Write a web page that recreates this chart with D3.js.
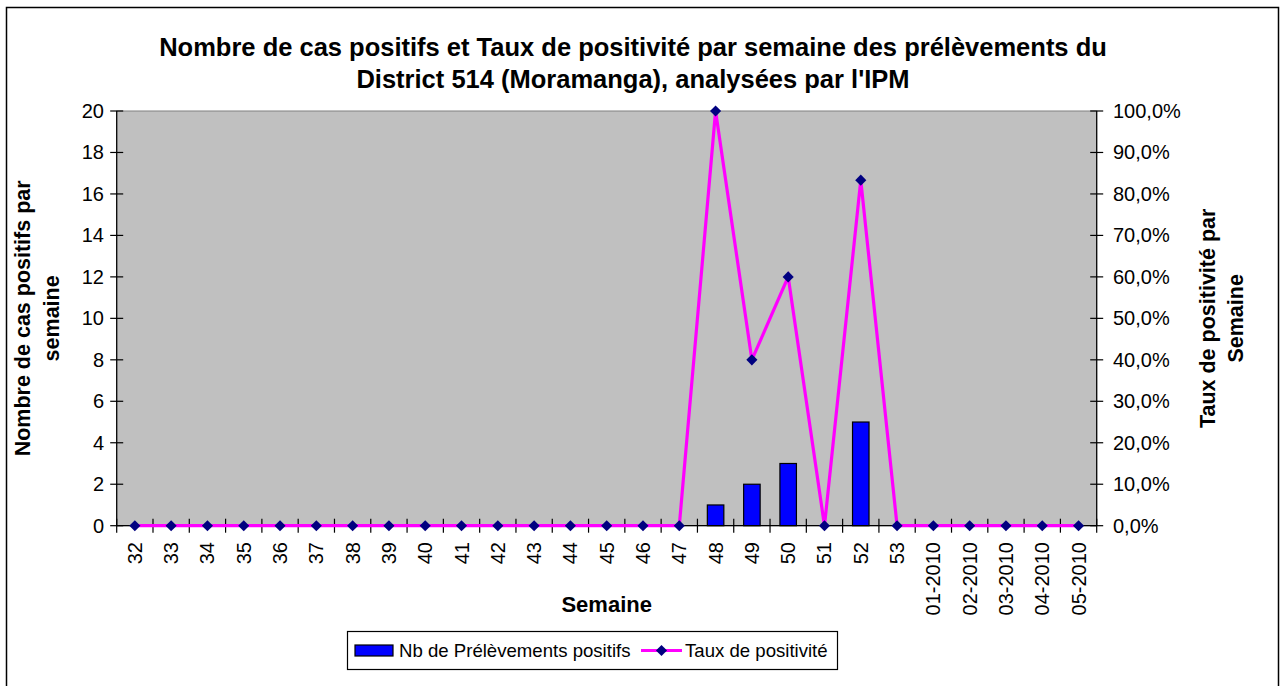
<!DOCTYPE html>
<html>
<head>
<meta charset="utf-8">
<script src="https://cdn.jsdelivr.net/npm/d3@7"></script>
<style>
  body { margin: 0; background: #fff; }
  text { font-family: "Liberation Sans", Arial, sans-serif; fill: #000; }
</style>
</head>
<body>
<div id="chart"></div>
<script>
var w = 1283;
var h = 686;

// semaines
var categories = ["32","33","34","35","36","37","38","39","40","41","42","43","44","45","46","47",
                  "48","49","50","51","52","53","01-2010","02-2010","03-2010","04-2010","05-2010"];
// Nb de Prélèvements positifs
var nbPositifs = [0,0,0,0,0,0,0,0,0,0,0,0,0,0,0,0, 1,2,3,0,5,0, 0,0,0,0,0];
// Taux de positivité
var tauxPositivite = [0,0,0,0,0,0,0,0,0,0,0,0,0,0,0,0, 1.0,0.4,0.6,0,0.8333,0, 0,0,0,0,0];
var leftTicks = [0,2,4,6,8,10,12,14,16,18,20];
var rightTicks = [0,0.1,0.2,0.3,0.4,0.5,0.6,0.7,0.8,0.9,1.0];

var plot = { left: 116.7, right: 1096.7, top: 111, bottom: 525.7 };

var xScale = d3.scaleBand()
      .domain(categories)
      .range([plot.left, plot.right]);

var yLeft = d3.scaleLinear()
      .domain([0, 20])
      .range([plot.bottom, plot.top]);

var yRight = d3.scaleLinear()
      .domain([0, 1])
      .range([plot.bottom, plot.top]);

var svg = d3.select("#chart")
    .append("svg")
    .attr("width", w)
    .attr("height", h);

// outer frame
svg.append("rect")
  .attr("x", 6.5).attr("y", 7.5)
  .attr("width", 1272).attr("height", 700)
  .attr("fill", "#fff")
  .attr("stroke", "#000")
  .attr("stroke-width", 1.5);

// title
var title = svg.append("text")
  .attr("text-anchor", "middle")
  .attr("font-size", "25.5px")
  .attr("font-weight", "bold");
title.append("tspan").attr("x", 633).attr("y", 56)
  .text("Nombre de cas positifs et Taux de positivité par semaine des prélèvements du");
title.append("tspan").attr("x", 633).attr("y", 88)
  .text("District 514 (Moramanga), analysées par l'IPM");

// plot area
svg.append("rect")
  .attr("x", plot.left).attr("y", plot.top)
  .attr("width", plot.right - plot.left)
  .attr("height", plot.bottom - plot.top)
  .attr("fill", "#c0c0c0")
  .attr("stroke", "#808080")
  .attr("stroke-width", 1);

// bars
var barW = 16.5;
svg.selectAll("rect.bar")
  .data(nbPositifs)
  .enter()
  .append("rect")
  .attr("class", "bar")
  .attr("x", function(d, i) { return xScale(categories[i]) + xScale.bandwidth() / 2 - barW / 2; })
  .attr("y", function(d) { return yLeft(d); })
  .attr("width", barW)
  .attr("height", function(d) { return plot.bottom - yLeft(d); })
  .attr("fill", "#0000ff")
  .attr("stroke", "#000")
  .attr("stroke-width", 1.2);

// axes (crossing ticks)
var axes = svg.append("g").attr("stroke", "#000").attr("stroke-width", 1.2);
axes.append("line")
  .attr("x1", plot.left).attr("x2", plot.left)
  .attr("y1", plot.top).attr("y2", plot.bottom);
axes.append("line")
  .attr("x1", plot.right).attr("x2", plot.right)
  .attr("y1", plot.top).attr("y2", plot.bottom);
axes.append("line")
  .attr("x1", plot.left).attr("x2", plot.right)
  .attr("y1", plot.bottom).attr("y2", plot.bottom);

axes.selectAll("line.lt")
  .data(leftTicks).enter().append("line")
  .attr("class", "lt")
  .attr("x1", plot.left - 6.5).attr("x2", plot.left + 6.5)
  .attr("y1", function(d) { return yLeft(d); })
  .attr("y2", function(d) { return yLeft(d); });

axes.selectAll("line.rt")
  .data(rightTicks).enter().append("line")
  .attr("class", "rt")
  .attr("x1", plot.right - 6.5).attr("x2", plot.right + 6.5)
  .attr("y1", function(d) { return yRight(d); })
  .attr("y2", function(d) { return yRight(d); });

var bounds = categories.map(function(c) { return xScale(c); }).concat([plot.right]);
axes.selectAll("line.xt")
  .data(bounds).enter().append("line")
  .attr("class", "xt")
  .attr("x1", function(d) { return d; }).attr("x2", function(d) { return d; })
  .attr("y1", plot.bottom - 7).attr("y2", plot.bottom + 7);

// tick labels
svg.selectAll("text.ly")
  .data(leftTicks).enter().append("text")
  .attr("class", "ly")
  .attr("x", 104)
  .attr("y", function(d) { return yLeft(d); })
  .attr("dy", "0.35em")
  .attr("text-anchor", "end")
  .attr("font-size", "20px")
  .text(function(d) { return d; });

var pct = function(d) { return (d * 100).toFixed(1).replace(".", ",") + "%"; };
svg.selectAll("text.ry")
  .data(rightTicks).enter().append("text")
  .attr("class", "ry")
  .attr("x", 1113)
  .attr("y", function(d) { return yRight(d); })
  .attr("dy", "0.35em")
  .attr("font-size", "20px")
  .text(pct);

svg.selectAll("text.xl")
  .data(categories).enter().append("text")
  .attr("class", "xl")
  .attr("transform", function(d) {
      return "translate(" + (xScale(d) + xScale.bandwidth() / 2) + "," + 542 + ") rotate(-90)";
  })
  .attr("dy", "0.35em")
  .attr("text-anchor", "end")
  .attr("font-size", "20px")
  .text(function(d) { return d; });

// line + markers
var line = d3.line()
  .x(function(d, i) { return xScale(categories[i]) + xScale.bandwidth() / 2; })
  .y(function(d) { return yRight(d); });

svg.append("path")
  .datum(tauxPositivite)
  .attr("d", line)
  .attr("fill", "none")
  .attr("stroke", "#ff00ff")
  .attr("stroke-width", 3.2)
  .attr("stroke-linejoin", "miter");

var diamond = d3.symbol().type(d3.symbolSquare).size(62);
svg.selectAll("path.mk")
  .data(tauxPositivite).enter().append("path")
  .attr("class", "mk")
  .attr("d", diamond)
  .attr("transform", function(d, i) {
      return "translate(" + (xScale(categories[i]) + xScale.bandwidth() / 2) + "," + yRight(d) + ") rotate(45)";
  })
  .attr("fill", "#000080");

// axis titles
var lt = svg.append("text")
  .attr("transform", "translate(0," + ((plot.top + plot.bottom) / 2) + ") rotate(-90)")
  .attr("text-anchor", "middle")
  .attr("font-size", "21.5px")
  .attr("font-weight", "bold");
lt.append("tspan").attr("x", 0).attr("y", 30).text("Nombre de cas positifs par");
lt.append("tspan").attr("x", 0).attr("y", 59).text("semaine");

var rtt = svg.append("text")
  .attr("transform", "translate(0," + ((plot.top + plot.bottom) / 2) + ") rotate(-90)")
  .attr("text-anchor", "middle")
  .attr("font-size", "21.5px")
  .attr("font-weight", "bold");
rtt.append("tspan").attr("x", 0).attr("y", 1215).text("Taux de positivité par");
rtt.append("tspan").attr("x", 0).attr("y", 1243).text("Semaine");

svg.append("text")
  .attr("x", (plot.left + plot.right) / 2)
  .attr("y", 612)
  .attr("text-anchor", "middle")
  .attr("font-size", "22px")
  .attr("font-weight", "bold")
  .text("Semaine");

// legend
var lg = svg.append("g");
lg.append("rect")
  .attr("x", 347.5).attr("y", 631.5)
  .attr("width", 490).attr("height", 38)
  .attr("fill", "#fff")
  .attr("stroke", "#000")
  .attr("stroke-width", 1.2);
lg.append("rect")
  .attr("x", 355).attr("y", 645)
  .attr("width", 38).attr("height", 11)
  .attr("fill", "#0000ff")
  .attr("stroke", "#000")
  .attr("stroke-width", 1.2);
lg.append("text")
  .attr("x", 399).attr("y", 657)
  .attr("font-size", "18.6px")
  .text("Nb de Prélèvements positifs");
lg.append("line")
  .attr("x1", 641).attr("x2", 682)
  .attr("y1", 650.5).attr("y2", 650.5)
  .attr("stroke", "#ff00ff")
  .attr("stroke-width", 3.2);
lg.append("path")
  .attr("d", diamond)
  .attr("transform", "translate(661.5,650.5) rotate(45)")
  .attr("fill", "#000080");
lg.append("text")
  .attr("x", 685).attr("y", 657)
  .attr("font-size", "18.6px")
  .text("Taux de positivité");
</script>
</body>
</html>
